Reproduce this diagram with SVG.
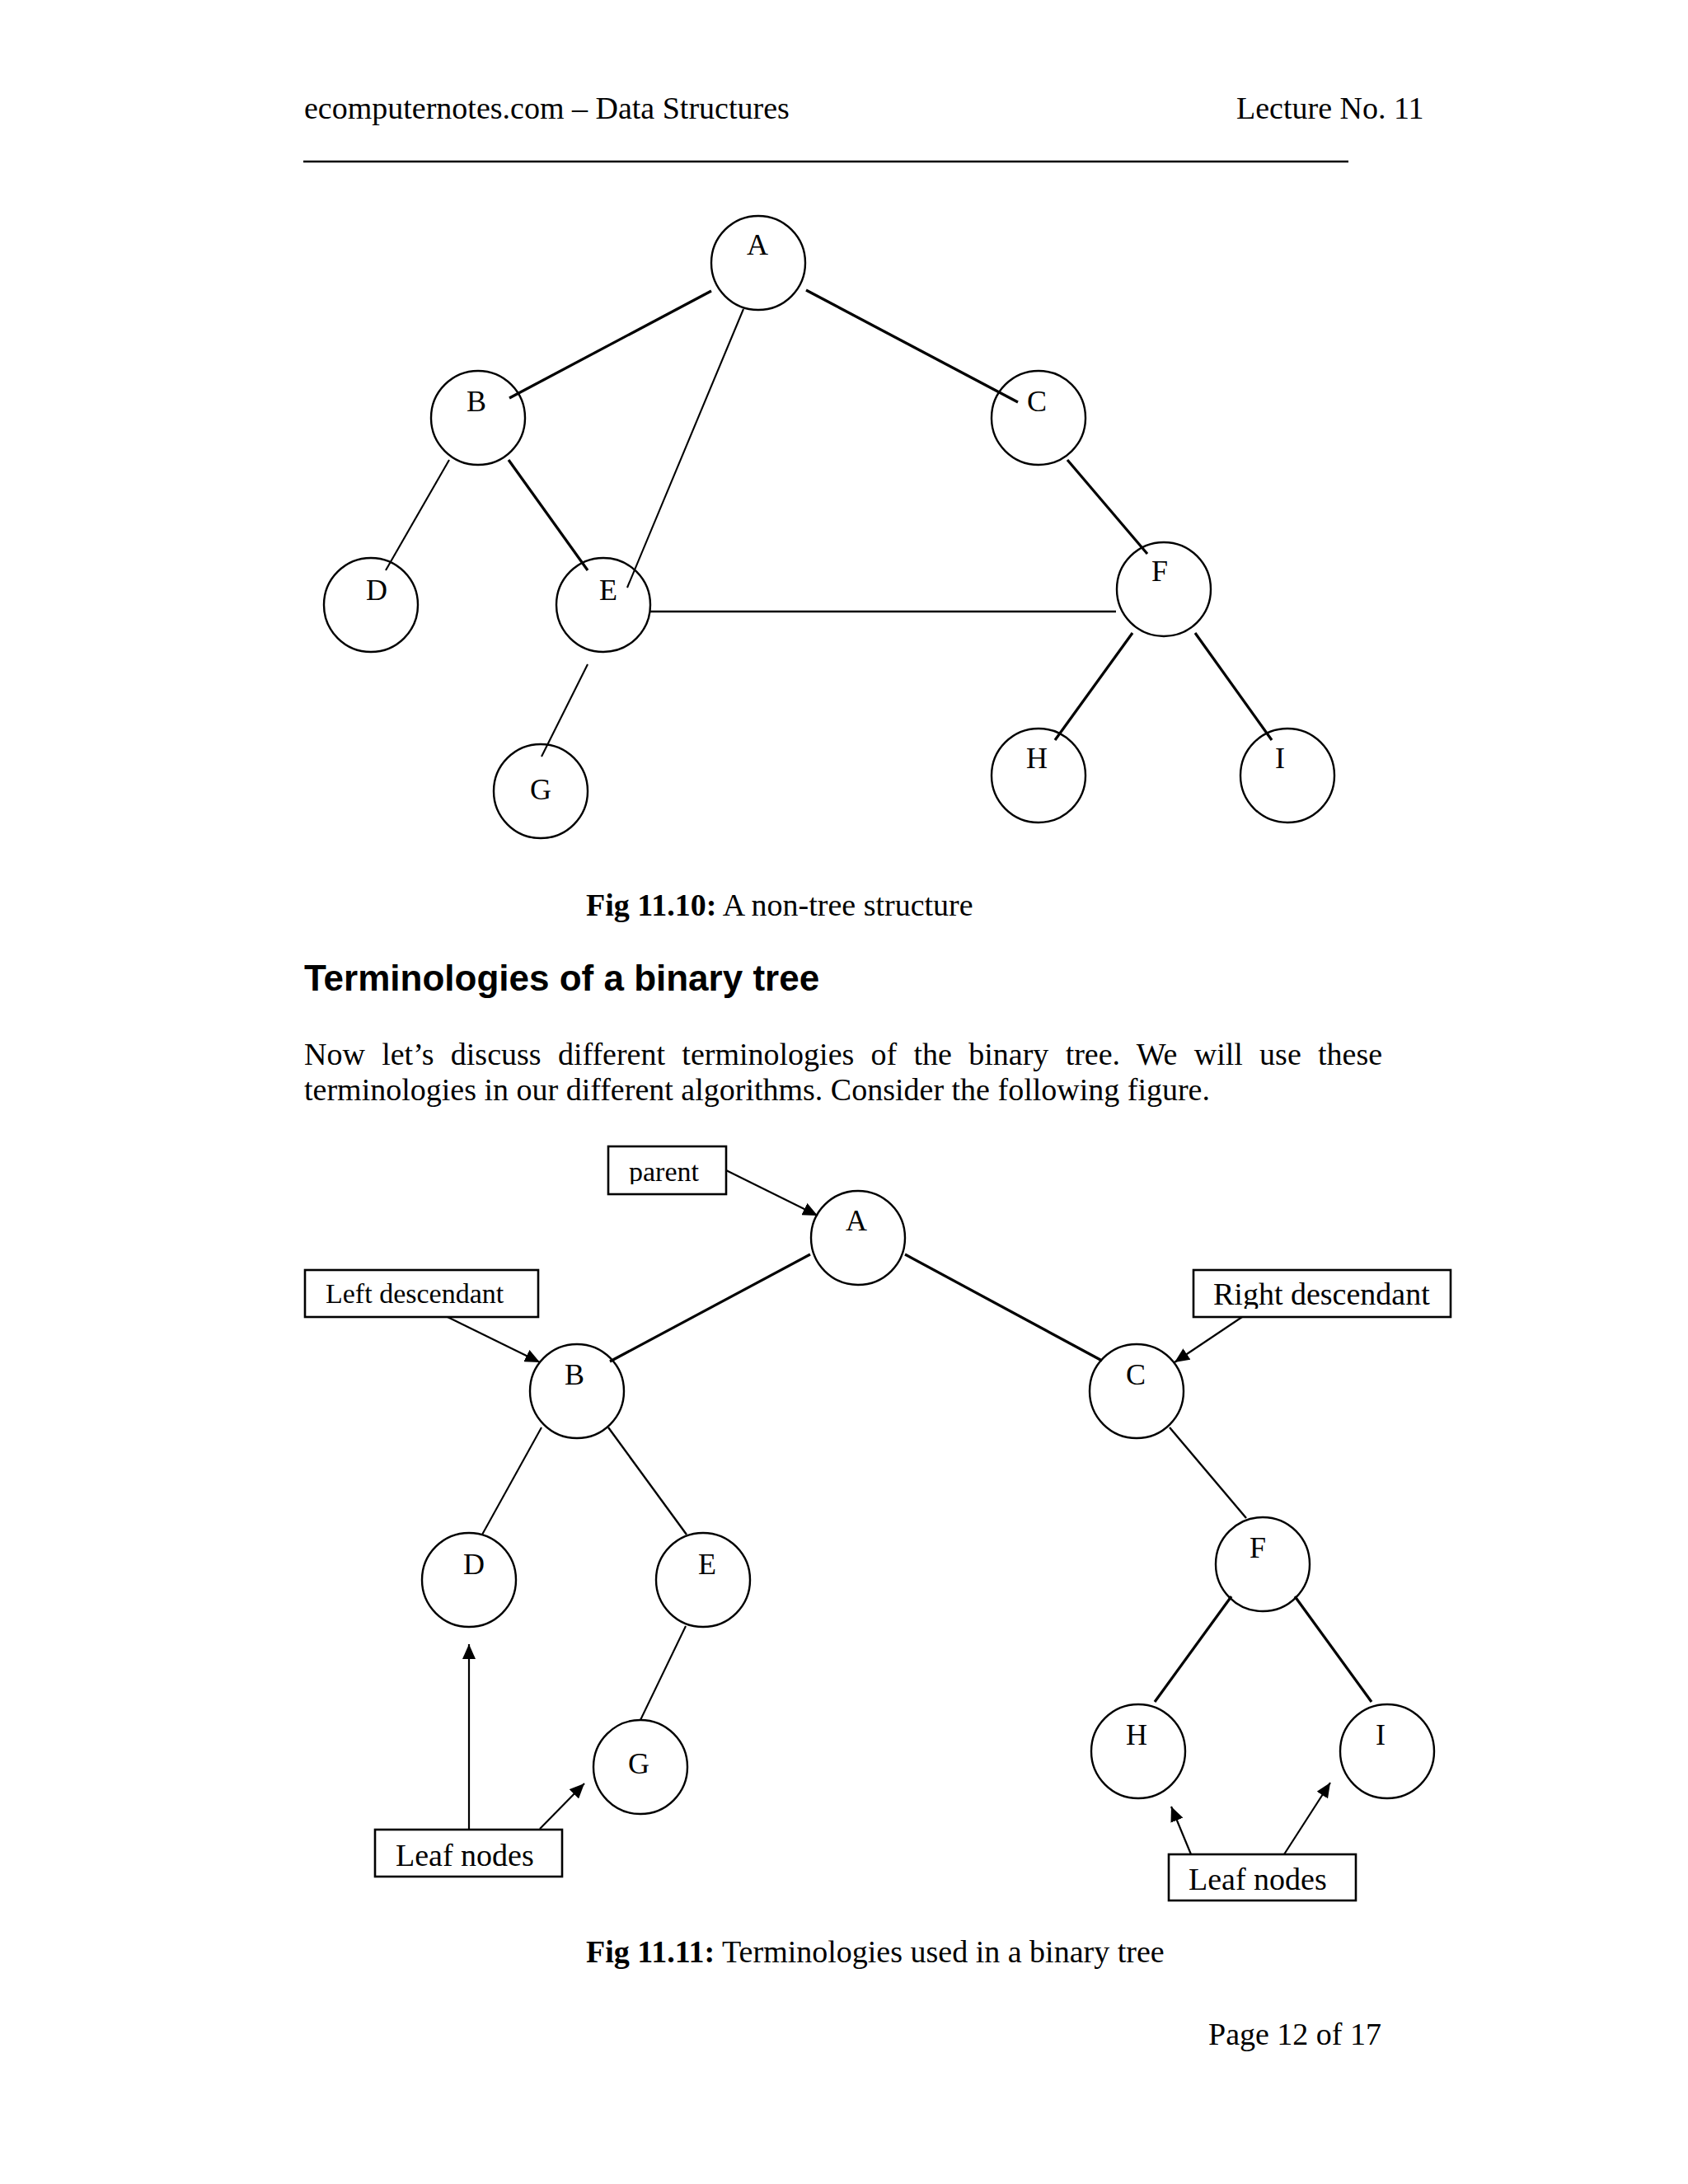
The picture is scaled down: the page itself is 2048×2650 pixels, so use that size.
<svg xmlns="http://www.w3.org/2000/svg" width="2048" height="2650" viewBox="0 0 2048 2650">
<style>
  text { font-family: "Liberation Serif", "Times New Roman", serif; fill: #000; }
  .hdr { font-size: 38px; }
  .cap { font-size: 38px; }
  .b { font-weight: bold; }
  .h2 { font-family: "Liberation Sans", Arial, sans-serif; font-weight: bold; font-size: 44px; }
  .lbl { font-size: 36px; text-anchor: middle; }
  .node circle { fill: none; stroke: #000; stroke-width: 2.4; }
  .box rect { fill: #fff; stroke: #000; stroke-width: 2.6; }
  .e { stroke: #000; stroke-width: 2.4; fill: none; stroke-linecap: butt; }
  .t { stroke-width: 3.2; }
  .n { stroke-width: 2.1; }
  .arr { stroke: #000; stroke-width: 2.2; fill: none; marker-end: url(#ah); }
</style>
<defs>
  <marker id="ah" markerUnits="userSpaceOnUse" markerWidth="20" markerHeight="16" refX="18" refY="8" orient="auto">
    <path d="M0,0 L18,8 L0,16 Z" fill="#000"/>
  </marker>
  <clipPath id="clipParent"><rect x="738" y="1391" width="143" height="46"/></clipPath>
  <clipPath id="clipRight"><rect x="1448" y="1541" width="312" height="47"/></clipPath>
</defs>
<rect width="2048" height="2650" fill="#fff"/>

<!-- Header -->
<g id="header">
  <text class="hdr" x="369" y="144">ecomputernotes.com – Data Structures</text>
  <text class="hdr" x="1500" y="144">Lecture No. 11</text>
  <line x1="368" y1="196" x2="1636" y2="196" stroke="#000" stroke-width="2.5"/>
</g>

<!-- Figure 11.10 connectors -->
<g id="fig10-connectors">
  <line class="e t" x1="863" y1="353" x2="618" y2="483"/>
  <line class="e t" x1="978" y1="352" x2="1235" y2="488"/>
  <line class="e n" x1="902" y1="375" x2="761" y2="713"/>
  <line class="e n" x1="545" y1="558" x2="468" y2="692"/>
  <line class="e t" x1="617" y1="558" x2="713" y2="692"/>
  <line class="e" x1="788" y1="742" x2="1354" y2="742"/>
  <line class="e t" x1="1295" y1="558" x2="1392" y2="672"/>
  <line class="e t" x1="1374" y1="768" x2="1280" y2="898"/>
  <line class="e t" x1="1450" y1="768" x2="1543" y2="898"/>
  <line class="e n" x1="713" y1="806" x2="657" y2="918"/>
</g>

<!-- Figure 11.10 nodes -->
<g id="fig10-A" class="node"><circle cx="920" cy="319" r="57"/><text class="lbl" x="919" y="309">A</text></g>
<g id="fig10-B" class="node"><circle cx="580" cy="507" r="57"/><text class="lbl" x="578" y="499">B</text></g>
<g id="fig10-C" class="node"><circle cx="1260" cy="507" r="57"/><text class="lbl" x="1258" y="499">C</text></g>
<g id="fig10-D" class="node"><circle cx="450" cy="734" r="57"/><text class="lbl" x="457" y="728">D</text></g>
<g id="fig10-E" class="node"><circle cx="732" cy="734" r="57"/><text class="lbl" x="738" y="728">E</text></g>
<g id="fig10-F" class="node"><circle cx="1412" cy="715" r="57"/><text class="lbl" x="1407" y="705">F</text></g>
<g id="fig10-G" class="node"><circle cx="656" cy="960" r="57"/><text class="lbl" x="656" y="970">G</text></g>
<g id="fig10-H" class="node"><circle cx="1260" cy="941" r="57"/><text class="lbl" x="1258" y="932">H</text></g>
<g id="fig10-I" class="node"><circle cx="1562" cy="941" r="57"/><text class="lbl" x="1553" y="932">I</text></g>

<text class="cap" x="711" y="1111"><tspan class="b">Fig 11.10:</tspan> A non-tree structure</text>

<text class="h2" x="369" y="1202">Terminologies of a binary tree</text>

<text class="cap" x="369" y="1292" word-spacing="10.8">Now let’s discuss different terminologies of the binary tree. We will use these</text>
<text class="cap" x="369" y="1335">terminologies in our different algorithms. Consider the following figure.</text>

<!-- Figure 11.11 connectors -->
<g id="fig11-connectors">
  <line class="e t" x1="983" y1="1522" x2="740" y2="1652"/>
  <line class="e t" x1="1098" y1="1522" x2="1337" y2="1651"/>
  <line class="e n" x1="657" y1="1732" x2="585" y2="1862"/>
  <line class="e" x1="738" y1="1732" x2="833" y2="1862"/>
  <line class="e" x1="1419" y1="1732" x2="1512" y2="1842"/>
  <line class="e n" x1="832" y1="1973" x2="777" y2="2087"/>
  <line class="e t" x1="1494" y1="1937" x2="1401" y2="2065"/>
  <line class="e t" x1="1571" y1="1937" x2="1664" y2="2065"/>
  <line class="arr" x1="881" y1="1420" x2="992" y2="1475"/>
  <line class="arr" x1="543" y1="1598" x2="655" y2="1653"/>
  <line class="arr" x1="1507" y1="1598" x2="1425" y2="1653"/>
  <line class="arr" x1="569" y1="2220" x2="569" y2="1995"/>
  <line class="arr" x1="655" y1="2219" x2="709" y2="2164"/>
  <line class="arr" x1="1445" y1="2250" x2="1421" y2="2192"/>
  <line class="arr" x1="1558" y1="2250" x2="1614" y2="2163"/>
</g>

<!-- Figure 11.11 label boxes -->
<g id="box-parent" class="box"><rect x="738" y="1391" width="143" height="58"/><text x="763" y="1433" font-size="34" clip-path="url(#clipParent)">parent</text></g>
<g id="box-left-descendant" class="box"><rect x="370" y="1541" width="283" height="57"/><text x="395" y="1581" font-size="34">Left descendant</text></g>
<g id="box-right-descendant" class="box"><rect x="1448" y="1541" width="312" height="57"/><text x="1472" y="1583" font-size="38" clip-path="url(#clipRight)">Right descendant</text></g>
<g id="box-leaf-left" class="box"><rect x="455" y="2220" width="227" height="57"/><text x="480" y="2264" font-size="38">Leaf nodes</text></g>
<g id="box-leaf-right" class="box"><rect x="1418" y="2250" width="227" height="56"/><text x="1442" y="2293" font-size="38">Leaf nodes</text></g>

<!-- Figure 11.11 nodes -->
<g id="fig11-A" class="node"><circle cx="1041" cy="1502" r="57"/><text class="lbl" x="1039" y="1493">A</text></g>
<g id="fig11-B" class="node"><circle cx="700" cy="1688" r="57"/><text class="lbl" x="697" y="1680">B</text></g>
<g id="fig11-C" class="node"><circle cx="1379" cy="1688" r="57"/><text class="lbl" x="1378" y="1680">C</text></g>
<g id="fig11-D" class="node"><circle cx="569" cy="1917" r="57"/><text class="lbl" x="575" y="1910">D</text></g>
<g id="fig11-E" class="node"><circle cx="853" cy="1917" r="57"/><text class="lbl" x="858" y="1910">E</text></g>
<g id="fig11-F" class="node"><circle cx="1532" cy="1898" r="57"/><text class="lbl" x="1526" y="1890">F</text></g>
<g id="fig11-G" class="node"><circle cx="777" cy="2144" r="57"/><text class="lbl" x="775" y="2152">G</text></g>
<g id="fig11-H" class="node"><circle cx="1381" cy="2125" r="57"/><text class="lbl" x="1379" y="2117">H</text></g>
<g id="fig11-I" class="node"><circle cx="1683" cy="2125" r="57"/><text class="lbl" x="1675" y="2117">I</text></g>

<text class="cap" x="711" y="2381"><tspan class="b">Fig 11.11:</tspan> Terminologies used in a binary tree</text>

<text class="cap" x="1466" y="2481">Page 12 of 17</text>
</svg>
